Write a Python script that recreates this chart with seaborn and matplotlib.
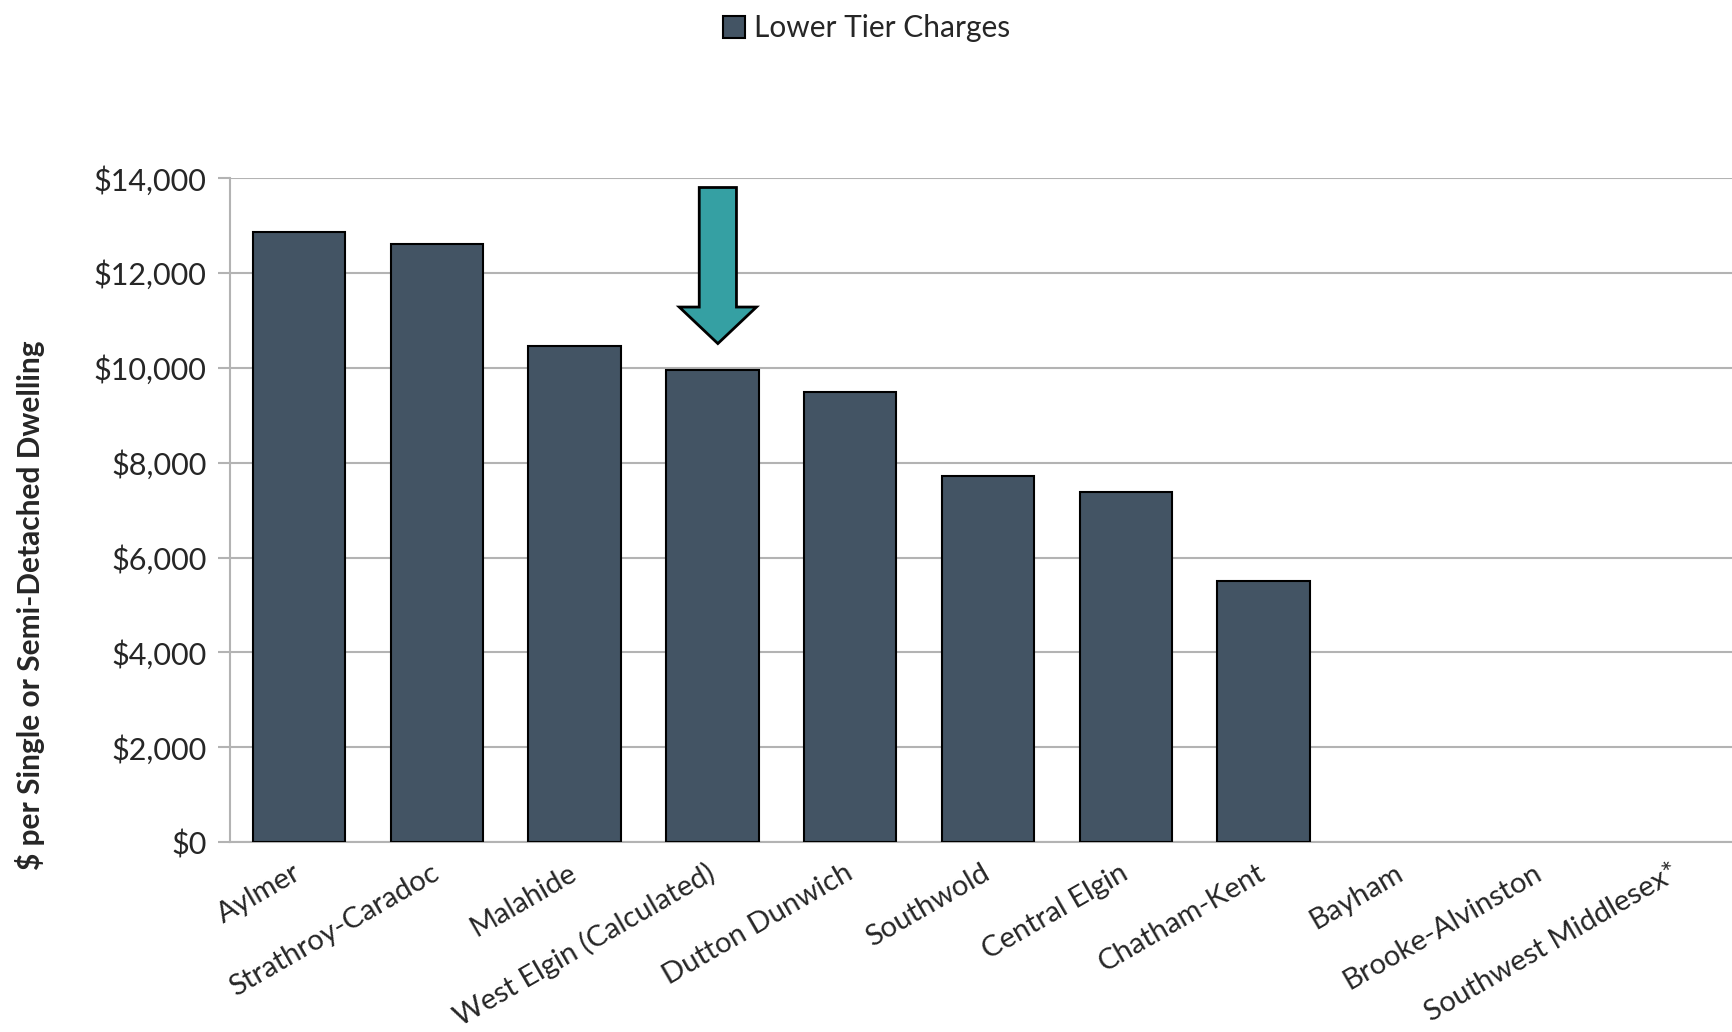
import matplotlib

matplotlib.use("Agg")
import matplotlib.pyplot as plt
import numpy as np
import seaborn as sns
from matplotlib.patches import Patch, Polygon
from matplotlib.ticker import FuncFormatter, MultipleLocator

# data
municipalities = [
    "Aylmer",
    "Strathroy-Caradoc",
    "Malahide",
    "West Elgin (Calculated)",
    "Dutton Dunwich",
    "Southwold",
    "Central Elgin",
    "Chatham-Kent",
    "Bayham",
    "Brooke-Alvinston",
    "Southwest Middlesex*",
]
lower_tier = [12860, 12600, 10460, 9950, 9480, 7710, 7380, 5500, 0, 0, 0]
highlight = "West Elgin (Calculated)"
series_name = "Lower Tier Charges"

bar_color = "#435464"
arrow_color = "#35A0A3"
grid_color = "#B3B3B3"

sns.set_theme(style="white")
plt.rcParams["font.family"] = ["Lato", "DejaVu Sans"]

fig = plt.figure(figsize=(17.33, 10.32), dpi=100)
ax = fig.add_axes([0.1327, 0.184, 0.8748, 0.6435])

sns.barplot(
    x=municipalities,
    y=lower_tier,
    order=municipalities,
    color=bar_color,
    saturation=1,
    edgecolor="black",
    linewidth=1.5,
    width=0.67,
    ax=ax,
    zorder=3,
)
# empty categories: no bar outline
for p in ax.patches:
    if p.get_height() == 0:
        p.set_visible(False)

ax.set_xlim(-0.5, len(municipalities) - 0.5)
ax.set_ylim(0, 14000)
ax.yaxis.set_major_locator(MultipleLocator(2000))
ax.yaxis.set_major_formatter(FuncFormatter(lambda v, _: f"${v:,.0f}"))
ax.grid(axis="y", color=grid_color, linewidth=1.5, zorder=0)
ax.set_axisbelow(True)

for side in ["top", "right"]:
    ax.spines[side].set_visible(False)
for side in ["left", "bottom"]:
    ax.spines[side].set_color(grid_color)
    ax.spines[side].set_linewidth(1.5)

# tick marks between categories on x, outward ticks on y
ax.set_xticks(np.arange(len(municipalities)))
ax.set_xticks(np.arange(len(municipalities) + 1) - 0.5, minor=True)
ax.tick_params(axis="x", which="major", length=0, pad=21)
ax.tick_params(axis="x", which="minor", length=11, width=1.5, color=grid_color, direction="out")
ax.tick_params(axis="y", length=9, width=1.5, color=grid_color, direction="out", left=True, labelsize=22, pad=8)
ax.set_xticklabels(municipalities, rotation=30, ha="right", va="center", rotation_mode="anchor", fontsize=21)

ax.set_xlabel("")
ax.set_ylabel("$ per Single or Semi-Detached Dwelling", fontsize=21.5, fontweight="bold")
ax.yaxis.set_label_coords(-0.122, 0.357)

# arrow pointing at the highlighted municipality
hi = municipalities.index(highlight)
hv = lower_tier[hi]
cx = hi + 0.04
tip, base, top = hv + 560, hv + 1330, hv + 3850
sw, hw = 0.135, 0.28
arrow = Polygon(
    [
        (cx - sw, top), (cx + sw, top), (cx + sw, base), (cx + hw, base),
        (cx, tip), (cx - hw, base), (cx - sw, base),
    ],
    closed=True, facecolor=arrow_color, edgecolor="black", linewidth=2, zorder=5,
)
ax.add_patch(arrow)

handles = [Patch(facecolor=bar_color, edgecolor="black", linewidth=1.5, label=series_name)]
fig.legend(
    handles=handles,
    loc="upper center",
    bbox_to_anchor=(0.5, 1.012),
    frameon=False,
    fontsize=21.5,
    handlelength=0.75,
    handleheight=0.75,
    handletextpad=0.3,
)

fig.savefig("out.png", dpi=100)
plt.close(fig)
